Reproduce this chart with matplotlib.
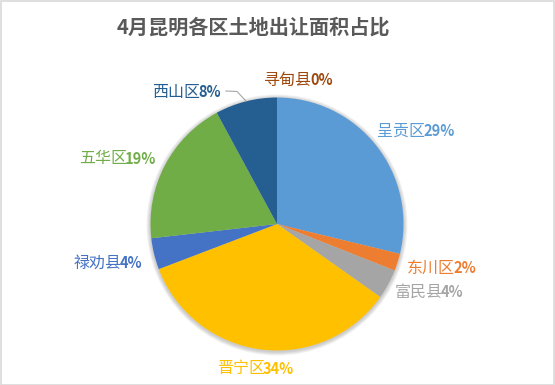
import matplotlib
matplotlib.use("Agg")
import matplotlib.pyplot as plt
from matplotlib.patches import Circle, Rectangle

plt.rcParams['font.family'] = ['Noto Sans CJK SC', 'DejaVu Sans']

title = "4月昆明各区土地出让面积占比"
names = ["呈贡区", "东川区", "富民县", "晋宁区", "禄劝县", "五华区", "西山区", "寻甸县"]
values = [28.8, 2.2, 3.8, 34.4, 4.0, 18.9, 7.9, 0.0]
colors = ["#5B9BD5", "#ED7D31", "#A5A5A5", "#FFC000", "#4472C4", "#70AD47", "#255E91", "#9E480E"]

# label layout (pixel coords, top-left origin): split x between name and percent, y center
label_pos = [(425, 131), (455, 268), (443, 292), (265, 369),
             (122, 263), (127, 159), (200, 92), (312, 80)]

W, H = 555, 385
fig = plt.figure(figsize=(W / 100, H / 100), dpi=100)
ax = fig.add_axes([0, 0, 1, 1])
ax.set_xlim(0, W)
ax.set_ylim(0, H)
ax.set_aspect('equal')
ax.axis('off')

cx, cy, r = 277, H - 224, 126.5

# soft shadow
for i, a in enumerate([0.05, 0.05, 0.05, 0.05]):
    ax.add_patch(Circle((cx, cy - 1), r + 1 + i * 1.0, color='black', alpha=a, lw=0, zorder=1))

wedges, _ = ax.pie(values, colors=colors, startangle=90, counterclock=False,
                   center=(cx, cy), radius=r, frame=True,
                   wedgeprops=dict(linewidth=0, zorder=2))
for w in wedges:
    w.set_zorder(2)
ax.set_xlim(0, W)
ax.set_ylim(0, H)
ax.axis('off')

total = sum(values)
fs = 11.5
for name, v, c, (sx, sy) in zip(names, values, colors, label_pos):
    pct = f"{round(v / total * 100):.0f}%"
    ax.text(sx, H - sy, name, color=c, fontsize=fs, ha='right', va='center', zorder=5)
    ax.text(sx - 2, H - sy, pct, color=c, fontsize=fs - 1, fontweight='bold', ha='left', va='center', zorder=5)

# leader line for 西山区
ax.plot([226, 237, 246], [H - 91, H - 91.5, H - 101], color='#A6A6A6', lw=0.8, zorder=4)

ax.text(W / 2 - 24, H - 27, title, fontsize=14.5, fontweight='bold', color='#595959',
        ha='center', va='center')

fig.patches.append(Rectangle((0.5 / W, 0.5 / H), 1 - 1.5 / W, 1 - 1.5 / H, transform=fig.transFigure,
                             fill=False, edgecolor='#D9D9D9', lw=1.2))

fig.savefig("out.png", dpi=100, facecolor='white')
